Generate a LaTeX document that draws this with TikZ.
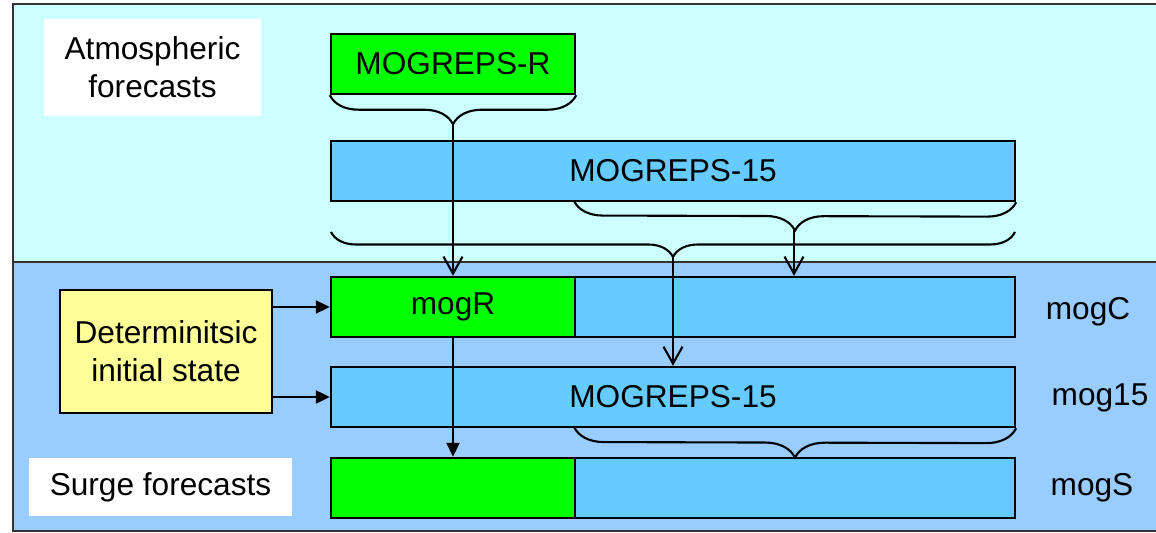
\documentclass[tikz,border=0pt]{standalone}
\usepackage{fontspec}
\setmainfont{Liberation Sans}
\usetikzlibrary{arrows.meta,decorations.pathreplacing}
\definecolor{atmbg}{HTML}{CCFFFF}
\definecolor{surgebg}{HTML}{99CCFF}
\definecolor{mogreen}{HTML}{00FF00}
\definecolor{moblue}{HTML}{66CCFF}
\definecolor{detyellow}{HTML}{FFFF99}

\begin{document}
\begin{tikzpicture} [x=0.02cm,y=-0.02cm,
  font=\fontsize{18}{21.6}\selectfont,
  bar/.style={draw,line width=1.4pt,minimum height=1.2cm,inner sep=0pt},
  caption/.style={fill=white,inner sep=0pt,align=center},
  brc/.style={decorate,decoration={brace,mirror,amplitude=#1},line width=1.2pt},
  vee/.style={-{Straight Barb[length=0.34cm,width=0.38cm]},line width=1.2pt},
  tri/.style={-{Triangle[length=0.28cm,width=0.26cm]},line width=1.2pt}]
\useasboundingbox (0,0) rectangle (1156,533);
% panels
\draw[fill=atmbg,line width=1.1pt,draw=black!80] (13,4) rectangle (1180,262);
\draw[fill=surgebg,line width=1.1pt,draw=black!80] (13,262) rectangle (1180,531);
% atmospheric forecasts
\node[caption,minimum width=4.36cm,minimum height=1.94cm] (atm) at (152.5,67.5) {Atmospheric\\forecasts};
\node[bar,fill=mogreen,minimum width=4.88cm] (mogrepsR) at (453,64) {MOGREPS-R};
\node[bar,fill=moblue,minimum width=13.68cm] (mogreps15) at (673,171) {MOGREPS-15};
\draw[brc=0.58cm] (mogrepsR.south west) -- (mogrepsR.south east);
\coordinate (rtip) at (453,123);
\draw[brc=0.58cm] (574,201) -- (mogreps15.south east);
\coordinate (ctip) at (794,230);
\draw[brc=0.5cm] (331,232) -- (1015,232);
\coordinate (bigtip) at (673,257);
% surge forecasts
\node[bar,fill=mogreen,minimum width=4.88cm] (mogR) at (453,307) {mogR};
\node[bar,fill=moblue,minimum width=8.8cm] (mogCb) at (795,307) {};
\node[bar,fill=moblue,minimum width=13.68cm] (mog15) at (673,397) {MOGREPS-15};
\node[bar,fill=mogreen,minimum width=4.88cm] (mogSg) at (453,488) {};
\node[bar,fill=moblue,minimum width=8.8cm] (mogSb) at (795,488) {};
\draw[brc=0.6cm] (574,427) -- (mog15.south east);
\node[bar,fill=detyellow,minimum width=4.24cm,minimum height=2.46cm,align=center] (det) at (166,351.5) {Determinitsic\\initial state};
\node[caption,minimum width=5.26cm,minimum height=1.16cm] (surge) at (160.5,487) {Surge forecasts};
\node (lblC) at (1088,312) {mogC};
\node (lbl15) at (1100,398) {mog15};
\node (lblS) at (1092,488) {mogS};
% arrows
\draw[vee] (rtip) -- (mogR.north);
\draw[vee] (ctip) -- (ctip |- mogCb.north);
\draw[vee] (bigtip) -- (bigtip |- mog15.north);
\draw[tri] (mogR.south) -- (mogSg.north);
\draw[tri] (det.east |- mogR) -- (mogR.west);
\draw[tri] (det.east |- mog15) -- (mog15.west);
\end{tikzpicture}
\end{document}
